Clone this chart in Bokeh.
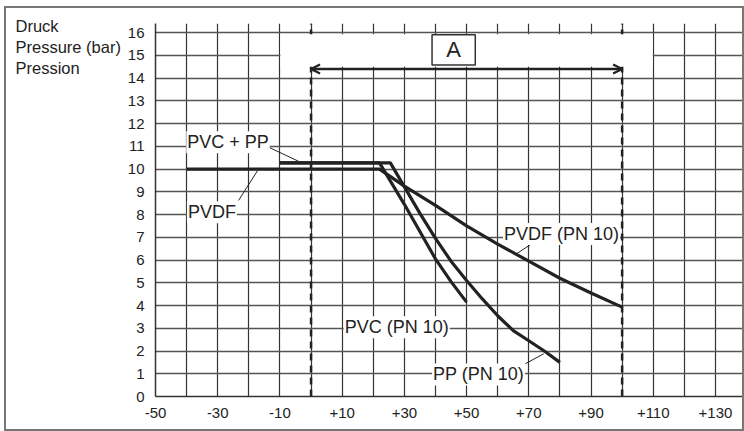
from bokeh.plotting import figure
from bokeh.models import FixedTicker, Label, Arrow, OpenHead, Range1d
from bokeh.embed import file_html
from bokeh.resources import INLINE

# ---- data ----
x_grid = list(range(-50, 140, 10))
y_grid = list(range(0, 17))
x_tick_vals = [-50, -30, -10, 10, 30, 50, 70, 90, 110, 130]
x_tick_text = ["-50", "-30", "-10", "+10", "+30", "+50", "+70", "+90", "+110", "+130"]
y_title = ["Druck", "Pressure (bar)", "Pression"]

pvdf_x = [-40, 22, 30, 40, 50, 60, 70, 80, 90, 100]
pvdf_y = [10, 10, 9.25, 8.4, 7.5, 6.7, 5.95, 5.2, 4.55, 3.93]

pvc_x = [-10, 22, 30, 40, 45, 50]
pvc_y = [10.27, 10.27, 8.45, 6.05, 5.05, 4.15]

pp_x = [-10, 25.5, 35, 40, 45, 50, 55, 60, 65, 70, 75, 80]
pp_y = [10.27, 10.27, 8.05, 6.95, 5.95, 5.1, 4.3, 3.55, 2.9, 2.45, 2.0, 1.5]

range_a = [0, 100]          # temperature range "A"
range_a_y = 14.4

FONT = "Liberation Sans"
INK = "#222222"

border_css = (":host::after {content: ''; position: absolute; left: 4px; top: 6px; "
              "width: 740px; height: 425px; border: 2px solid #777777; "
              "box-sizing: border-box; pointer-events: none;}")

p = figure(width=744, height=431, output_backend="svg", toolbar_location=None,
           x_range=Range1d(-50, 138.7), y_range=Range1d(0, 16.4),
           min_border_left=155, min_border_right=2, min_border_top=23, min_border_bottom=35,
           stylesheets=[border_css])
p.outline_line_color = None
p.background_fill_color = "white"
p.border_fill_color = "white"

# grids
p.xgrid.ticker = FixedTicker(ticks=x_grid)
p.ygrid.ticker = FixedTicker(ticks=y_grid)
p.xgrid.grid_line_color = "#333333"
p.xgrid.grid_line_width = 1.2
p.ygrid.grid_line_color = "#555555"
p.ygrid.grid_line_width = 1.6

# axes
p.xaxis.ticker = FixedTicker(ticks=x_tick_vals)
p.xaxis.major_label_overrides = {v: t for v, t in zip(x_tick_vals, x_tick_text)}
p.yaxis.ticker = FixedTicker(ticks=y_grid)
for ax in (p.xaxis, p.yaxis):
    ax.major_tick_line_color = None
    ax.major_tick_out = 0
    ax.major_tick_in = 0
    ax.minor_tick_line_color = None
    ax.axis_line_color = "#333333"
    ax.axis_line_width = 1.5
    ax.major_label_text_font = FONT
    ax.major_label_text_font_size = "15px"
    ax.major_label_text_color = INK
p.xaxis.major_label_standoff = 11
p.yaxis.major_label_standoff = 11

# dashed range limits
p.segment(x0=range_a, y0=[0, 0], x1=range_a, y1=[16.4, 16.4],
          line_color=INK, line_width=2.5, line_dash="7 5")

# white mask behind the "A" range marker
p.quad(left=[-9.85], right=[109.85], bottom=[14.5], top=[15.93],
       fill_color="white", line_color=None)

# curves
p.line(pvdf_x, pvdf_y, line_color=INK, line_width=3.2)
p.line(pvc_x, pvc_y, line_color=INK, line_width=3.2)
p.line(pp_x, pp_y, line_color=INK, line_width=3.2)

# leader lines
lead_x0 = [-13.6, -23.3, 72.9, 68.9]
lead_y0 = [10.96, 8.62, 6.89, 1.44]
lead_x1 = [-4.0, -17.2, 66.0, 74.8]
lead_y1 = [10.34, 9.93, 6.27, 1.88]
p.segment(x0=lead_x0, y0=lead_y0, x1=lead_x1, y1=lead_y1, line_color=INK, line_width=1)

# box A
p.quad(left=[38.9], right=[52.8], bottom=[14.58], top=[15.9],
       fill_color="white", line_color="#333333", line_width=1.5)
p.add_layout(Label(x=45.85, y=15.24, text="A", text_align="center", text_baseline="middle",
                   text_font=FONT, text_font_size="22px", text_color=INK))

# double arrow
p.add_layout(Arrow(start=OpenHead(size=9, line_width=2.2, line_color=INK),
                   end=OpenHead(size=9, line_width=2.2, line_color=INK),
                   x_start=range_a[0], y_start=range_a_y, x_end=range_a[1], y_end=range_a_y,
                   line_width=2.5, line_color=INK))

# curve labels
labels = [
    ("PVC + PP", -40.1, 11.18),
    ("PVDF", -39.9, 8.10),
    ("PVDF (PN 10)", 61.7, 7.15),
    ("PVC (PN 10)", 10.5, 3.05),
    ("PP (PN 10)", 38.9, 0.97),
]
for txt, lx, ly in labels:
    p.add_layout(Label(x=lx, y=ly, text=txt, text_align="left", text_baseline="alphabetic",
                       text_font=FONT, text_font_size="18px", text_color=INK,
                       background_fill_color="white", padding=1))

# y-axis title (three languages), placed in the left side panel so it is not clipped
p.add_layout(Label(x=15, y=16, x_units="canvas", y_units="canvas",
                   text="\n".join(y_title), text_align="left", text_baseline="top",
                   text_line_height=1.18,
                   text_font=FONT, text_font_size="16.5px", text_color=INK), "left")

open("out.html", "w").write(file_html(p, INLINE))
